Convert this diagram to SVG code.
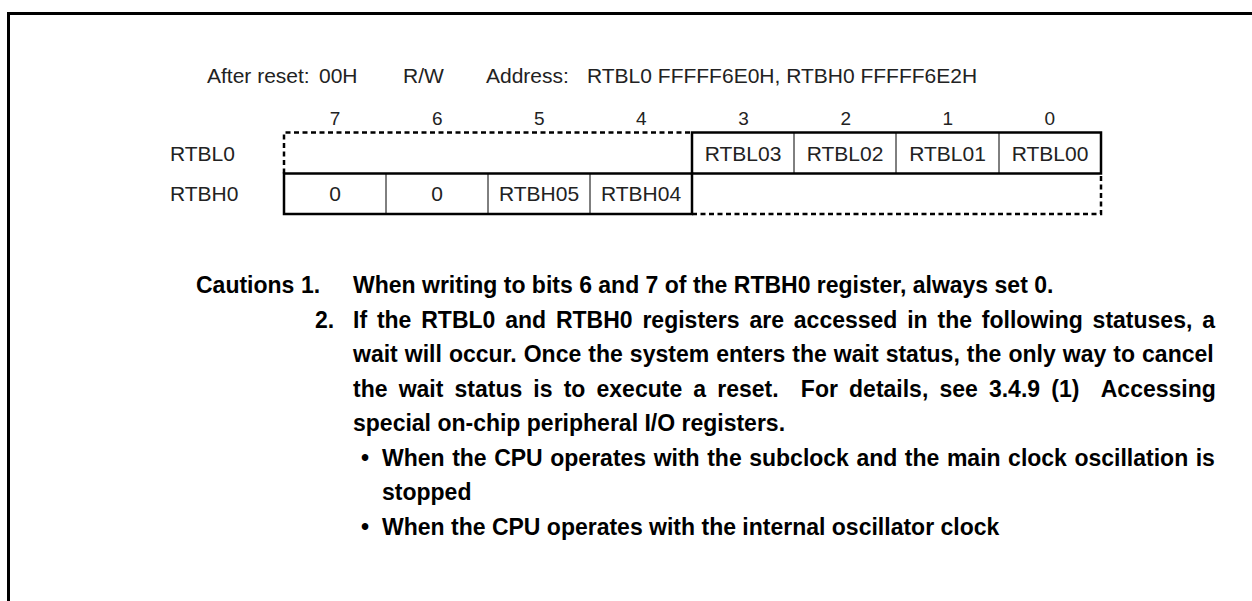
<svg xmlns="http://www.w3.org/2000/svg" width="1252" height="601" viewBox="0 0 1252 601">
<style>
.hdr{font-family:"Liberation Sans",Arial,sans-serif;font-size:21px;fill:#222}
.bit{font-family:"Liberation Sans",Arial,sans-serif;font-size:19px;fill:#222;text-anchor:middle}
.cell{font-family:"Liberation Sans",Arial,sans-serif;font-size:21px;fill:#222;text-anchor:middle}
.lbl{font-family:"Liberation Sans",Arial,sans-serif;font-size:21px;fill:#222}
.cau{font-family:"Liberation Sans",Arial,sans-serif;font-size:23px;font-weight:bold;fill:#000}
.thick{fill:none;stroke:#000;stroke-width:2.5}
.thin{fill:none;stroke:#000;stroke-width:1}
.dash{fill:none;stroke:#000;stroke-width:2.5;stroke-dasharray:5 3.5}
</style>
<path d="M8.5,601 V13.5 H1252" fill="none" stroke="#000" stroke-width="3"/>
<g id="header">
<text class="hdr" x="207" y="83">After reset:</text>
<text class="hdr" x="319" y="83">00H</text>
<text class="hdr" x="403" y="83">R/W</text>
<text class="hdr" x="486" y="83">Address:</text>
<text class="hdr" x="587" y="83">RTBL0 FFFFF6E0H, RTBH0 FFFFF6E2H</text>
</g>
<g id="bits">
<text class="bit" x="335.1" y="125">7</text>
<text class="bit" x="437.2" y="125">6</text>
<text class="bit" x="539.3" y="125">5</text>
<text class="bit" x="641.4" y="125">4</text>
<text class="bit" x="743.6" y="125">3</text>
<text class="bit" x="845.7" y="125">2</text>
<text class="bit" x="947.8" y="125">1</text>
<text class="bit" x="1049.9" y="125">0</text>
</g>
<g id="reg-RTBL0">
<text class="lbl" x="170" y="161">RTBL0</text>
<path class="dash" d="M284,173.5 V132.5 H692"/>
<rect class="thick" x="692" y="132.5" width="409" height="41"/>
<path class="thin" d="M794,132.5 V173.5 M896,132.5 V173.5 M999,132.5 V173.5"/>
<text class="cell" x="743" y="160.5">RTBL03</text>
<text class="cell" x="845" y="160.5">RTBL02</text>
<text class="cell" x="947.5" y="160.5">RTBL01</text>
<text class="cell" x="1050" y="160.5">RTBL00</text>
</g>
<g id="reg-RTBH0">
<text class="lbl" x="170" y="201">RTBH0</text>
<rect class="thick" x="284" y="173.5" width="408" height="40.5"/>
<path class="thin" d="M386,173.5 V214 M488,173.5 V214 M590,173.5 V214"/>
<path class="dash" d="M692,214 H1101 V173.5"/>
<text class="cell" x="335" y="201">0</text>
<text class="cell" x="437" y="201">0</text>
<text class="cell" x="539" y="201">RTBH05</text>
<text class="cell" x="641" y="201">RTBH04</text>
</g>
<g id="cautions">
<text class="cau" x="196" y="293">Cautions</text>
<text class="cau" x="301" y="293">1.</text>
<text class="cau" x="353" y="293">When writing to bits 6 and 7 of the RTBH0 register, always set 0.</text>
<text class="cau" x="315" y="327.5">2.</text>
<text class="cau" x="353" y="327.5" word-spacing="3.45">If the RTBL0 and RTBH0 registers are accessed in the following statuses, a</text>
<text class="cau" x="353" y="362" word-spacing="0.67">wait will occur. Once the system enters the wait status, the only way to cancel</text>
<text class="cau" x="353" y="396.5" word-spacing="4.74" xml:space="preserve">the wait status is to execute a reset.  For details, see 3.4.9 (1)  Accessing</text>
<text class="cau" x="353" y="431">special on-chip peripheral I/O registers.</text>
<text class="cau" x="361" y="465.5">•</text>
<text class="cau" x="382" y="465.5" word-spacing="1.14">When the CPU operates with the subclock and the main clock oscillation is</text>
<text class="cau" x="382" y="500">stopped</text>
<text class="cau" x="361" y="534.5">•</text>
<text class="cau" x="382" y="534.5">When the CPU operates with the internal oscillator clock</text>
</g>
</svg>
